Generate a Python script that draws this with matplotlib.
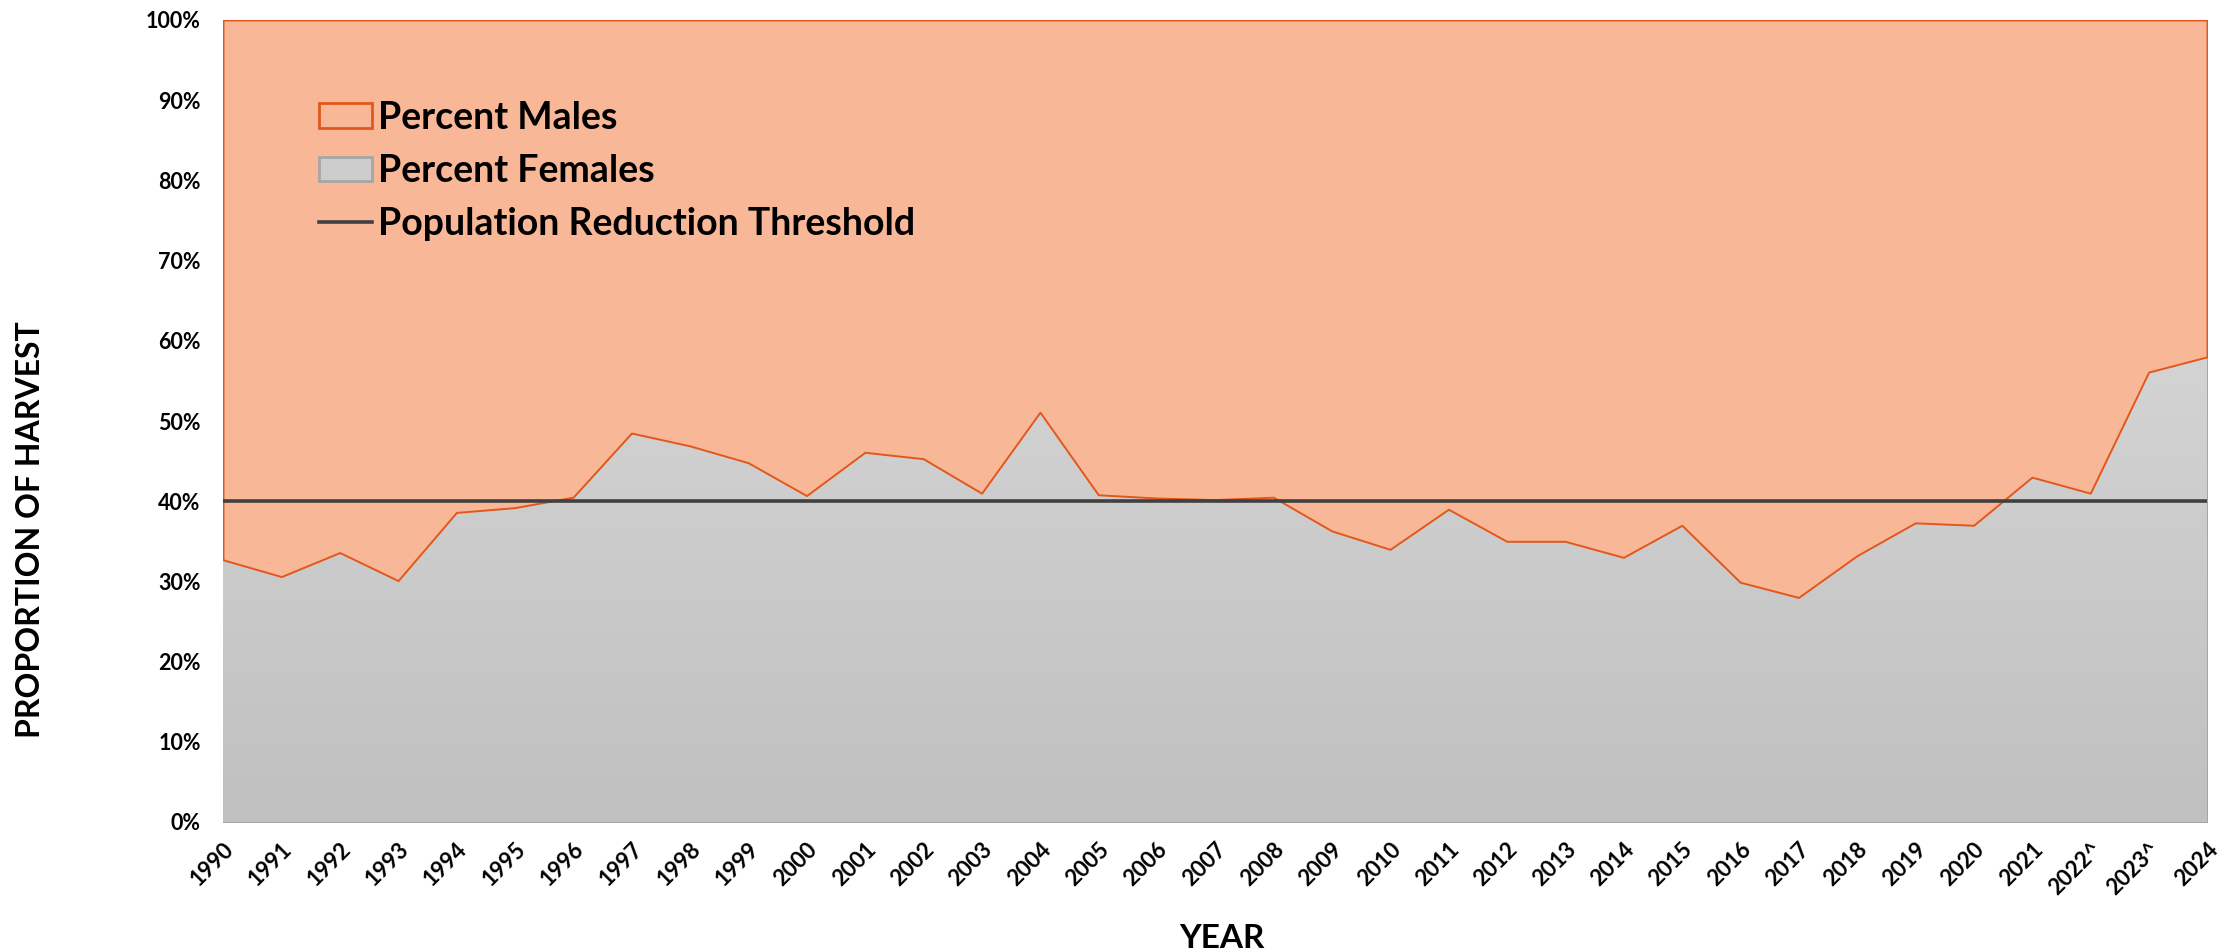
import numpy as np
import matplotlib
matplotlib.use("Agg")
import matplotlib.pyplot as plt
from matplotlib.colors import LinearSegmentedColormap
from matplotlib.patches import Patch
from matplotlib.lines import Line2D

years = ["1990", "1991", "1992", "1993", "1994", "1995", "1996", "1997", "1998", "1999",
         "2000", "2001", "2002", "2003", "2004", "2005", "2006", "2007", "2008", "2009",
         "2010", "2011", "2012", "2013", "2014", "2015", "2016", "2017", "2018", "2019",
         "2020", "2021", "2022^", "2023^", "2024"]
pct_females = [32.7, 30.6, 33.6, 30.1, 38.6, 39.2, 40.5, 48.5, 46.9, 44.8,
               40.7, 46.1, 45.3, 41.0, 51.1, 40.8, 40.4, 40.2, 40.5, 36.3,
               34.0, 39.0, 35.0, 35.0, 33.0, 37.0, 29.9, 28.0, 33.2, 37.3,
               37.0, 43.0, 41.0, 56.1, 58.0]
threshold = 40.0
yticks = [0, 10, 20, 30, 40, 50, 60, 70, 80, 90, 100]

FONT = "Lato"
MALE_FILL = "#F8B897"
MALE_EDGE = "#E2571C"
FEM_EDGE = "#A6A6A6"
LINE_C = "#404040"

x = np.arange(len(years))
f = np.array(pct_females) / 100.0

fig = plt.figure(figsize=(22.34, 9.51), dpi=100)
ax = fig.add_axes([223/2234, 1 - 822/951, (2207-223)/2234, (822-20)/951])

# females (gradient grey)
fem = ax.fill_between(x, 0, f, facecolor="#C8C8C8", edgecolor=FEM_EDGE, linewidth=1.2, zorder=1)
grad = np.linspace(0, 1, 256).reshape(-1, 1)
cmap = LinearSegmentedColormap.from_list("g", ["#C0C0C0", "#D4D4D4"])
im = ax.imshow(grad, extent=[x[0], x[-1], 0, 0.6], origin="lower", aspect="auto",
               cmap=cmap, zorder=1.5)
im.set_clip_path(fem.get_paths()[0], transform=ax.transData)

# males
ax.fill_between(x, f, 1, facecolor=MALE_FILL, edgecolor=MALE_EDGE, linewidth=1.4, zorder=2)

# threshold
ax.axhline(threshold / 100.0, color=LINE_C, linewidth=2.6, zorder=3)

ax.set_xlim(x[0], x[-1])
ax.set_ylim(0, 1)
for s in ax.spines.values():
    s.set_visible(False)

ax.set_yticks(np.array(yticks) / 100.0)
ax.set_yticklabels([f"{v}%" for v in yticks], fontsize=15.5, fontweight="bold", family=FONT)
ax.tick_params(axis="y", length=0, pad=16)
ax.set_xticks(x)
ax.set_xticklabels(years, rotation=45, ha="right", va="top", rotation_mode="anchor",
                   fontsize=16, fontweight="bold", family=FONT)
ax.tick_params(axis="x", length=0, pad=12)

fig.text(31/2234, 1 - 530/951, "PROPORTION OF HARVEST", rotation=90, ha="center", va="center",
         fontsize=23, fontweight="bold", family=FONT)
fig.text(1222/2234, 1 - 948/951, "YEAR", ha="center", va="baseline",
         fontsize=24, fontweight="bold", family=FONT)

# legend
LEG_FS = 27
handles = [Patch(facecolor=MALE_FILL, edgecolor=MALE_EDGE, linewidth=2),
           Patch(facecolor="#CDCDCD", edgecolor=FEM_EDGE, linewidth=2),
           Line2D([], [], color=LINE_C, linewidth=2.6)]
labels = ["Percent Males", "Percent Females", "Population Reduction Threshold"]
leg = ax.legend(handles, labels, loc="upper left",
                bbox_to_anchor=((319 - 223) / (2207 - 223), 1 - (101 - 20) / 802),
                bbox_transform=ax.transAxes, frameon=False,
                prop={"family": FONT, "weight": "bold", "size": LEG_FS},
                handlelength=1.42, handleheight=0.64, handletextpad=0.14, labelspacing=0.51,
                borderaxespad=0, borderpad=0)
leg.set_zorder(5)

fig.savefig("out.png", dpi=100)
